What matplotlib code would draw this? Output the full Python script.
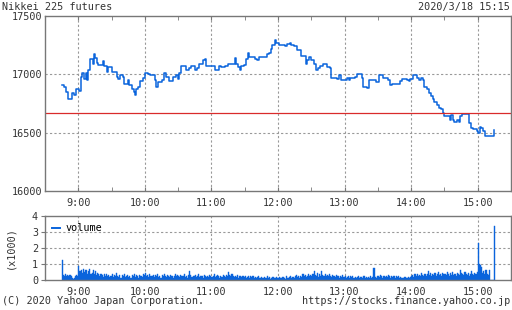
import numpy as np
import matplotlib
matplotlib.use("Agg")
import matplotlib.pyplot as plt

# price (step line), time of each change
price_times = ["8:45", "8:47", "8:49", "8:51", "8:54", "8:56", "8:58", "9:01", "9:02", "9:03",
               "9:05", "9:07", "9:08", "9:09", "9:11", "9:13", "9:14", "9:15", "9:17", "9:18",
               "9:22", "9:23", "9:26", "9:27", "9:30", "9:35", "9:36", "9:38", "9:40", "9:41",
               "9:45", "9:46", "9:48", "9:50", "9:51", "9:52", "9:54", "9:56", "9:58", "10:00",
               "10:03", "10:05", "10:09", "10:10", "10:12", "10:15", "10:17", "10:19", "10:22", "10:25",
               "10:28", "10:30", "10:31", "10:33", "10:37", "10:40", "10:42", "10:45", "10:47", "10:49",
               "10:52", "10:54", "10:55", "11:03", "11:07", "11:09", "11:12", "11:15", "11:21", "11:22",
               "11:24", "11:26", "11:27", "11:29", "11:31", "11:33", "11:34", "11:39", "11:41", "11:43",
               "11:50", "11:52", "11:54", "11:55", "11:57", "11:58", "12:01", "12:06", "12:08", "12:11",
               "12:12", "12:14", "12:17", "12:21", "12:25", "12:26", "12:28", "12:30", "12:32", "12:34",
               "12:36", "12:38", "12:41", "12:44", "12:47", "12:48", "12:53", "12:55", "12:57", "13:02",
               "13:04", "13:05", "13:09", "13:11", "13:16", "13:17", "13:20", "13:22", "13:28", "13:31",
               "13:35", "13:39", "13:41", "13:43", "13:50", "13:52", "13:56", "13:58", "13:59", "14:02",
               "14:05", "14:07", "14:09", "14:11", "14:12", "14:14", "14:16", "14:18", "14:20", "14:21",
               "14:23", "14:25", "14:27", "14:29", "14:30", "14:35", "14:36", "14:38", "14:39", "14:41",
               "14:43", "14:44", "14:46", "14:52", "14:54", "14:56", "14:59", "15:00", "15:02", "15:03",
               "15:05", "15:07", "15:15"]
prices = [16910, 16890, 16850, 16790, 16840, 16820, 16870, 16860, 16980, 17010,
          16960, 17010, 16950, 17040, 17130, 17090, 17170, 17140, 17100, 17080,
          17110, 17070, 17020, 17060, 17020, 16980, 16960, 16990, 16980, 16920,
          16950, 16910, 16870, 16850, 16820, 16870, 16890, 16940, 16970, 17010,
          17000, 16990, 16950, 16890, 16930, 16950, 17010, 16980, 16940, 16980,
          16990, 16960, 17010, 17070, 17040, 17050, 17070, 17040, 17050, 17090,
          17120, 17130, 17070, 17040, 17070, 17060, 17070, 17090, 17140, 17090,
          17060, 17040, 17070, 17080, 17130, 17180, 17150, 17130, 17120, 17150,
          17170, 17180, 17220, 17250, 17290, 17270, 17250, 17240, 17260, 17270,
          17250, 17240, 17210, 17160, 17090, 17120, 17150, 17120, 17090, 17040,
          17050, 17070, 17090, 17060, 17050, 16970, 16960, 16990, 16950, 16970,
          16950, 16970, 16980, 17000, 16970, 16890, 16880, 16950, 16930, 16990,
          16970, 16950, 16910, 16920, 16940, 16960, 16950, 16940, 16960, 16990,
          16970, 16950, 16970, 16950, 16890, 16870, 16840, 16810, 16790, 16760,
          16740, 16710, 16700, 16670, 16640, 16610, 16650, 16610, 16590, 16610,
          16590, 16640, 16660, 16580, 16540, 16530, 16510, 16500, 16550, 16540,
          16510, 16470, 16520]
prev_close = 16665

# volume per minute (x1000), 15 values per row starting 8:45, last value = 15:15
volume = [
    1.25, 0.30, 0.25, 0.35, 0.28, 0.30, 0.22, 0.30, 0.25, 0.10, 0.08, 0.12, 0.25, 0.30, 0.28,
    0.88, 0.55, 0.65, 0.45, 0.70, 0.50, 0.60, 0.65, 0.40, 0.55, 0.70, 0.35, 0.45, 0.60, 0.40,
    0.55, 0.30, 0.45, 0.35, 0.25, 0.40, 0.30, 0.20, 0.35, 0.28, 0.40, 0.22, 0.30, 0.18, 0.25,
    0.35, 0.20, 0.30, 0.25, 0.45, 0.28, 0.20, 0.32, 0.15, 0.30, 0.22, 0.35, 0.18, 0.25, 0.30,
    0.20, 0.28, 0.12, 0.30, 0.25, 0.35, 0.20, 0.30, 0.28, 0.15, 0.32, 0.25, 0.20, 0.38, 0.30,
    0.42, 0.25, 0.30, 0.20, 0.35, 0.28, 0.22, 0.30, 0.18, 0.32, 0.25, 0.35, 0.20, 0.28, 0.15,
    0.30, 0.22, 0.35, 0.25, 0.18, 0.32, 0.28, 0.20, 0.30, 0.25, 0.15, 0.28, 0.35, 0.22, 0.30,
    0.25, 0.18, 0.30, 0.22, 0.28, 0.35, 0.20, 0.25, 0.15, 0.30, 0.55, 0.32, 0.20, 0.28, 0.22,
    0.30, 0.18, 0.25, 0.35, 0.20, 0.28, 0.22, 0.15, 0.30, 0.25, 0.20, 0.28, 0.18, 0.32, 0.25,
    0.20, 0.28, 0.35, 0.18, 0.25, 0.30, 0.22, 0.15, 0.28, 0.20, 0.32, 0.25, 0.18, 0.30, 0.22,
    0.48, 0.30, 0.22, 0.35, 0.25, 0.18, 0.28, 0.20, 0.30, 0.15, 0.25, 0.22, 0.18, 0.28, 0.20,
    0.25, 0.15, 0.20, 0.28, 0.12, 0.22, 0.18, 0.25, 0.15, 0.20, 0.10, 0.18, 0.22, 0.15, 0.12,
    0.18, 0.12, 0.20, 0.15, 0.10, 0.22, 0.12, 0.18, 0.08, 0.15, 0.20, 0.12, 0.10, 0.18, 0.15,
    0.12, 0.18, 0.10, 0.15, 0.20, 0.12, 0.08, 0.22, 0.15, 0.12, 0.18, 0.25, 0.15, 0.20, 0.12,
    0.22, 0.30, 0.18, 0.25, 0.15, 0.28, 0.20, 0.35, 0.22, 0.30, 0.18, 0.25, 0.40, 0.22, 0.30,
    0.28, 0.35, 0.55, 0.30, 0.25, 0.42, 0.20, 0.35, 0.28, 0.55, 0.30, 0.22, 0.38, 0.25, 0.30,
    0.22, 0.35, 0.28, 0.20, 0.30, 0.25, 0.18, 0.32, 0.22, 0.28, 0.15, 0.25, 0.20, 0.30, 0.18,
    0.25, 0.15, 0.20, 0.28, 0.12, 0.22, 0.18, 0.25, 0.15, 0.20, 0.12, 0.18, 0.22, 0.15, 0.20,
    0.18, 0.12, 0.22, 0.15, 0.20, 0.10, 0.18, 0.15, 0.22, 0.12, 0.18, 0.75, 0.20, 0.15, 0.22,
    0.25, 0.18, 0.30, 0.22, 0.15, 0.28, 0.20, 0.25, 0.18, 0.30, 0.22, 0.15, 0.25, 0.20, 0.28,
    0.15, 0.22, 0.18, 0.25, 0.12, 0.20, 0.15, 0.10, 0.12, 0.18, 0.10, 0.15, 0.20, 0.12, 0.18,
    0.22, 0.30, 0.18, 0.35, 0.25, 0.40, 0.28, 0.32, 0.22, 0.45, 0.30, 0.25, 0.38, 0.28, 0.35,
    0.55, 0.30, 0.42, 0.25, 0.38, 0.30, 0.45, 0.28, 0.35, 0.50, 0.32, 0.40, 0.28, 0.45, 0.35,
    0.38, 0.30, 0.48, 0.35, 0.28, 0.42, 0.32, 0.50, 0.30, 0.40, 0.28, 0.45, 0.35, 0.30, 0.60,
    0.42, 0.35, 0.30, 0.48, 0.38, 0.32, 0.45, 0.28, 0.40, 0.55, 0.35, 0.30, 0.42, 0.38, 0.48,
    2.30, 1.00, 0.95, 0.80, 0.45, 0.55, 0.35, 0.65, 0.40, 0.30, 0.60, 0.00, 0.00, 0.00, 0.00,
    3.35]

hour_labels = ["9:00", "10:00", "11:00", "12:00", "13:00", "14:00", "15:00"]


def to_min(s):
    # minutes after 8:30
    h, m = s.split(":")
    return int(h) * 60 + int(m) - 510


plt.rcParams['font.family'] = ['DejaVu Sans Mono']
fs = 7.3
txt = '#333333'
blue = '#0a64dc'
gcol = '#999999'

fig = plt.figure(figsize=(5.12, 3.10), dpi=100)
ax = fig.add_axes([45 / 512, 119 / 310, 466 / 512, 175 / 310])
axv = fig.add_axes([45 / 512, 30 / 310, 466 / 512, 64 / 310])

hour_pos = [to_min(h) for h in hour_labels]
half_pos = [p + 30 for p in hour_pos[:-1]]

# price chart
t = [to_min(s) for s in price_times]
ax.plot(t, prices, drawstyle='steps-post', color=blue, lw=1.1)
ax.axhline(prev_close, color='#d92b2b', lw=0.9)
ax.set_xlim(0, 420)
ax.set_ylim(16000, 17500)
ax.set_yticks([16000, 16500, 17000, 17500])
ax.set_xticks(hour_pos)
ax.set_xticklabels(hour_labels)
ax.set_xticks(half_pos, minor=True)
for v in [16500, 17000]:
    ax.axhline(v, color=gcol, lw=0.8, ls=(0, (2, 2)), zorder=0)
for p in hour_pos:
    ax.axvline(p, color=gcol, lw=0.8, ls=(0, (2, 2)), zorder=0)
ax.tick_params(axis='x', which='both', direction='in', top=True, length=3,
               color='#777777', labelsize=fs, labelcolor=txt, pad=5)
ax.tick_params(axis='y', length=0, labelsize=fs, labelcolor=txt, pad=2)

# volume chart
vt = np.arange(len(volume)) + to_min("8:45")
axv.bar(vt, volume, width=1.0, color=blue, align='edge', linewidth=0.3, edgecolor=blue)
axv.set_xlim(0, 420)
axv.set_ylim(0, 4)
axv.set_yticks([0, 1, 2, 3, 4])
axv.set_xticks(hour_pos)
axv.set_xticklabels(hour_labels)
for v in [1, 2, 3]:
    axv.axhline(v, color=gcol, lw=0.8, ls=(0, (2, 2)), zorder=0)
for p in hour_pos:
    axv.axvline(p, color=gcol, lw=0.8, ls=(0, (2, 2)), zorder=0)
axv.tick_params(axis='x', length=0, labelsize=fs, labelcolor=txt, pad=5)
axv.tick_params(axis='y', length=3, direction='out', color='#777777',
                labelsize=fs, labelcolor=txt, pad=2)
axv.set_ylabel('(x1000)', fontsize=fs, color=txt, labelpad=12)
axv.legend([plt.Line2D([], [], color=blue, lw=1.4)], ['volume'], loc='upper left',
           frameon=False, fontsize=fs, handlelength=0.8, handletextpad=0.5,
           borderaxespad=0.3, labelcolor='black')

for a in (ax, axv):
    for s in a.spines.values():
        s.set_color('#777777')
        s.set_linewidth(1.0)

fig.text(2 / 512, 1 - 7 / 310, 'Nikkei 225 futures', fontsize=fs, color=txt, va='center', ha='left')
fig.text(510 / 512, 1 - 7 / 310, '2020/3/18 15:15', fontsize=fs, color=txt, va='center', ha='right')
fig.text(2 / 512, 1 - 301 / 310, '(C) 2020 Yahoo Japan Corporation.', fontsize=fs, color=txt, va='center', ha='left')
fig.text(510 / 512, 1 - 301 / 310, 'https://stocks.finance.yahoo.co.jp', fontsize=fs, color=txt, va='center', ha='right')

fig.savefig('out.png', dpi=100)
